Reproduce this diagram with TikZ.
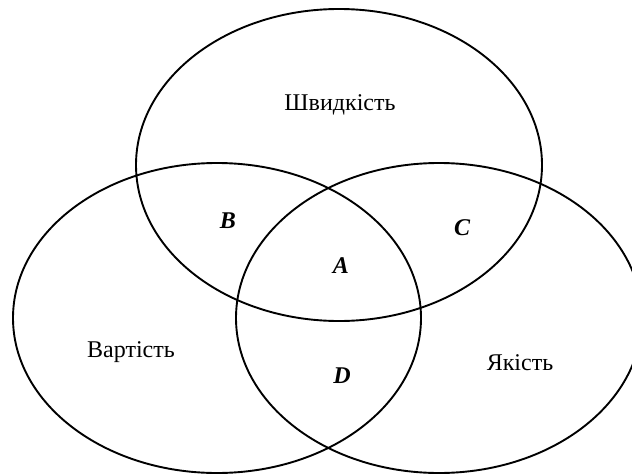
\documentclass[tikz,border=0pt]{standalone}
\usepackage{fontspec}
\setmainfont{Liberation Serif}
\begin{document}
\begin{tikzpicture}[x=1pt,y=-1pt,
  ring/.style={draw=black, line width=1.9pt},
  lbl/.style={anchor=base, inner sep=0pt, font=\fontsize{24}{28}\selectfont},
  reg/.style={anchor=base, inner sep=0pt, font=\fontsize{24}{28}\selectfont\bfseries\itshape}]
\useasboundingbox (0,0) rectangle (632,474);
\begin{scope}
\clip (0,0) rectangle (632,474);
\draw[ring] (339,165) ellipse [x radius=203pt, y radius=156pt];
\draw[ring] (217,318) ellipse [x radius=204pt, y radius=155pt];
\draw[ring] (439,318) ellipse [x radius=203pt, y radius=155pt];
\end{scope}
\node[lbl] (speed) at (340,110) {Швидкість};
\node[lbl] (cost) at (131,357) {Вартість};
\node[lbl] (quality) at (520,370) {Якість};
\node[reg] (regA) at (341,273) {A};
\node[reg] (regB) at (228,228) {B};
\node[reg] (regC) at (462,235) {C};
\node[reg] (regD) at (342,383) {D};
\end{tikzpicture}
\end{document}
